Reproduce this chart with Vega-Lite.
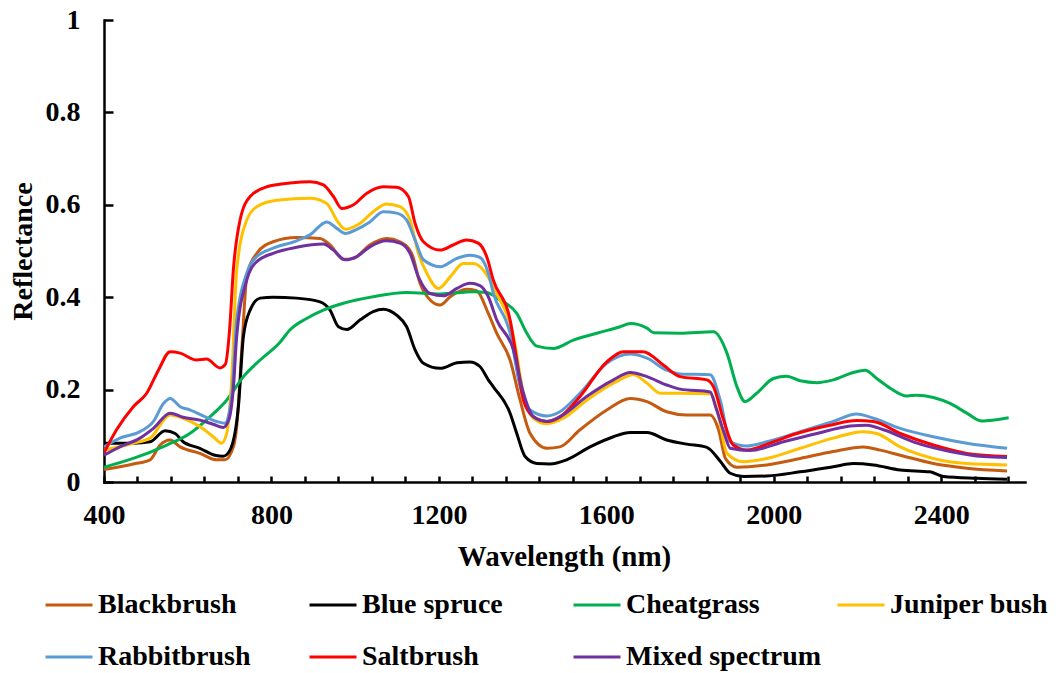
{
  "$schema": "https://vega.github.io/schema/vega-lite/v6.json",
  "autosize": {"type": "none"},
  "padding": {"left": 104, "top": 20, "right": 36, "bottom": 191},
  "width": 921,
  "height": 462,
  "background": "white",
  "config": {"view": {"stroke": null}, "font": "Liberation Serif"},
  "datasets": {
    "spectra": [
      {"s":"Blackbrush","w":400,"r":0.027},{"s":"Blackbrush","w":470,"r":0.039},{"s":"Blackbrush","w":510,"r":0.048},{"s":"Blackbrush","w":534,"r":0.080},{"s":"Blackbrush","w":558,"r":0.091},{"s":"Blackbrush","w":582,"r":0.076},{"s":"Blackbrush","w":629,"r":0.062},{"s":"Blackbrush","w":669,"r":0.048},{"s":"Blackbrush","w":689,"r":0.048},{"s":"Blackbrush","w":709,"r":0.076},{"s":"Blackbrush","w":717,"r":0.12},{"s":"Blackbrush","w":730,"r":0.30},{"s":"Blackbrush","w":741,"r":0.444},{"s":"Blackbrush","w":765,"r":0.495},{"s":"Blackbrush","w":804,"r":0.520},{"s":"Blackbrush","w":860,"r":0.529},{"s":"Blackbrush","w":916,"r":0.527},{"s":"Blackbrush","w":940,"r":0.513},{"s":"Blackbrush","w":972,"r":0.482},{"s":"Blackbrush","w":996,"r":0.484},{"s":"Blackbrush","w":1035,"r":0.513},{"s":"Blackbrush","w":1075,"r":0.527},{"s":"Blackbrush","w":1107,"r":0.520},{"s":"Blackbrush","w":1135,"r":0.495},{"s":"Blackbrush","w":1155,"r":0.430},{"s":"Blackbrush","w":1179,"r":0.394},{"s":"Blackbrush","w":1203,"r":0.383},{"s":"Blackbrush","w":1227,"r":0.401},{"s":"Blackbrush","w":1266,"r":0.417},{"s":"Blackbrush","w":1290,"r":0.414},{"s":"Blackbrush","w":1318,"r":0.365},{"s":"Blackbrush","w":1338,"r":0.322},{"s":"Blackbrush","w":1370,"r":0.264},{"s":"Blackbrush","w":1394,"r":0.177},{"s":"Blackbrush","w":1418,"r":0.105},{"s":"Blackbrush","w":1458,"r":0.073},{"s":"Blackbrush","w":1489,"r":0.076},{"s":"Blackbrush","w":1537,"r":0.113},{"s":"Blackbrush","w":1601,"r":0.156},{"s":"Blackbrush","w":1657,"r":0.181},{"s":"Blackbrush","w":1697,"r":0.174},{"s":"Blackbrush","w":1744,"r":0.152},{"s":"Blackbrush","w":1792,"r":0.145},{"s":"Blackbrush","w":1848,"r":0.145},{"s":"Blackbrush","w":1868,"r":0.113},{"s":"Blackbrush","w":1885,"r":0.050},{"s":"Blackbrush","w":1912,"r":0.032},{"s":"Blackbrush","w":1983,"r":0.037},{"s":"Blackbrush","w":2063,"r":0.051},{"s":"Blackbrush","w":2142,"r":0.066},{"s":"Blackbrush","w":2214,"r":0.076},{"s":"Blackbrush","w":2254,"r":0.069},{"s":"Blackbrush","w":2302,"r":0.058},{"s":"Blackbrush","w":2381,"r":0.040},{"s":"Blackbrush","w":2461,"r":0.030},{"s":"Blackbrush","w":2557,"r":0.024},

      {"s":"Blue spruce","w":400,"r":0.084},{"s":"Blue spruce","w":470,"r":0.084},{"s":"Blue spruce","w":510,"r":0.087},{"s":"Blue spruce","w":546,"r":0.111},{"s":"Blue spruce","w":570,"r":0.105},{"s":"Blue spruce","w":589,"r":0.087},{"s":"Blue spruce","w":629,"r":0.073},{"s":"Blue spruce","w":665,"r":0.058},{"s":"Blue spruce","w":685,"r":0.056},{"s":"Blue spruce","w":701,"r":0.069},{"s":"Blue spruce","w":721,"r":0.163},{"s":"Blue spruce","w":733,"r":0.315},{"s":"Blue spruce","w":749,"r":0.372},{"s":"Blue spruce","w":773,"r":0.398},{"s":"Blue spruce","w":804,"r":0.400},{"s":"Blue spruce","w":860,"r":0.398},{"s":"Blue spruce","w":916,"r":0.390},{"s":"Blue spruce","w":940,"r":0.372},{"s":"Blue spruce","w":960,"r":0.336},{"s":"Blue spruce","w":980,"r":0.330},{"s":"Blue spruce","w":1012,"r":0.351},{"s":"Blue spruce","w":1043,"r":0.369},{"s":"Blue spruce","w":1067,"r":0.374},{"s":"Blue spruce","w":1099,"r":0.361},{"s":"Blue spruce","w":1123,"r":0.336},{"s":"Blue spruce","w":1143,"r":0.286},{"s":"Blue spruce","w":1163,"r":0.257},{"s":"Blue spruce","w":1203,"r":0.246},{"s":"Blue spruce","w":1243,"r":0.258},{"s":"Blue spruce","w":1274,"r":0.260},{"s":"Blue spruce","w":1298,"r":0.250},{"s":"Blue spruce","w":1318,"r":0.221},{"s":"Blue spruce","w":1330,"r":0.206},{"s":"Blue spruce","w":1370,"r":0.149},{"s":"Blue spruce","w":1386,"r":0.105},{"s":"Blue spruce","w":1406,"r":0.055},{"s":"Blue spruce","w":1434,"r":0.040},{"s":"Blue spruce","w":1465,"r":0.039},{"s":"Blue spruce","w":1505,"r":0.048},{"s":"Blue spruce","w":1561,"r":0.076},{"s":"Blue spruce","w":1617,"r":0.098},{"s":"Blue spruce","w":1657,"r":0.107},{"s":"Blue spruce","w":1697,"r":0.107},{"s":"Blue spruce","w":1744,"r":0.091},{"s":"Blue spruce","w":1792,"r":0.082},{"s":"Blue spruce","w":1840,"r":0.075},{"s":"Blue spruce","w":1872,"r":0.045},{"s":"Blue spruce","w":1896,"r":0.019},{"s":"Blue spruce","w":1927,"r":0.012},{"s":"Blue spruce","w":1983,"r":0.013},{"s":"Blue spruce","w":2063,"r":0.022},{"s":"Blue spruce","w":2142,"r":0.033},{"s":"Blue spruce","w":2190,"r":0.040},{"s":"Blue spruce","w":2238,"r":0.037},{"s":"Blue spruce","w":2302,"r":0.026},{"s":"Blue spruce","w":2373,"r":0.022},{"s":"Blue spruce","w":2405,"r":0.012},{"s":"Blue spruce","w":2485,"r":0.008},{"s":"Blue spruce","w":2557,"r":0.006},

      {"s":"Cheatgrass","w":400,"r":0.032},{"s":"Cheatgrass","w":470,"r":0.051},{"s":"Cheatgrass","w":550,"r":0.080},{"s":"Cheatgrass","w":605,"r":0.105},{"s":"Cheatgrass","w":653,"r":0.141},{"s":"Cheatgrass","w":693,"r":0.177},{"s":"Cheatgrass","w":733,"r":0.228},{"s":"Cheatgrass","w":773,"r":0.264},{"s":"Cheatgrass","w":820,"r":0.302},{"s":"Cheatgrass","w":844,"r":0.329},{"s":"Cheatgrass","w":884,"r":0.354},{"s":"Cheatgrass","w":924,"r":0.372},{"s":"Cheatgrass","w":972,"r":0.387},{"s":"Cheatgrass","w":1043,"r":0.401},{"s":"Cheatgrass","w":1123,"r":0.410},{"s":"Cheatgrass","w":1203,"r":0.407},{"s":"Cheatgrass","w":1282,"r":0.412},{"s":"Cheatgrass","w":1314,"r":0.410},{"s":"Cheatgrass","w":1346,"r":0.394},{"s":"Cheatgrass","w":1386,"r":0.365},{"s":"Cheatgrass","w":1410,"r":0.322},{"s":"Cheatgrass","w":1434,"r":0.294},{"s":"Cheatgrass","w":1473,"r":0.289},{"s":"Cheatgrass","w":1521,"r":0.307},{"s":"Cheatgrass","w":1577,"r":0.322},{"s":"Cheatgrass","w":1633,"r":0.336},{"s":"Cheatgrass","w":1657,"r":0.343},{"s":"Cheatgrass","w":1697,"r":0.333},{"s":"Cheatgrass","w":1713,"r":0.323},{"s":"Cheatgrass","w":1776,"r":0.322},{"s":"Cheatgrass","w":1856,"r":0.325},{"s":"Cheatgrass","w":1888,"r":0.279},{"s":"Cheatgrass","w":1912,"r":0.206},{"s":"Cheatgrass","w":1931,"r":0.174},{"s":"Cheatgrass","w":1959,"r":0.192},{"s":"Cheatgrass","w":1999,"r":0.224},{"s":"Cheatgrass","w":2031,"r":0.229},{"s":"Cheatgrass","w":2063,"r":0.219},{"s":"Cheatgrass","w":2103,"r":0.215},{"s":"Cheatgrass","w":2142,"r":0.221},{"s":"Cheatgrass","w":2190,"r":0.237},{"s":"Cheatgrass","w":2218,"r":0.242},{"s":"Cheatgrass","w":2246,"r":0.224},{"s":"Cheatgrass","w":2278,"r":0.203},{"s":"Cheatgrass","w":2318,"r":0.186},{"s":"Cheatgrass","w":2342,"r":0.188},{"s":"Cheatgrass","w":2381,"r":0.183},{"s":"Cheatgrass","w":2421,"r":0.170},{"s":"Cheatgrass","w":2461,"r":0.149},{"s":"Cheatgrass","w":2497,"r":0.132},{"s":"Cheatgrass","w":2525,"r":0.134},{"s":"Cheatgrass","w":2561,"r":0.139},

      {"s":"Juniper bush","w":400,"r":0.069},{"s":"Juniper bush","w":470,"r":0.084},{"s":"Juniper bush","w":510,"r":0.095},{"s":"Juniper bush","w":558,"r":0.145},{"s":"Juniper bush","w":589,"r":0.138},{"s":"Juniper bush","w":629,"r":0.120},{"s":"Juniper bush","w":661,"r":0.098},{"s":"Juniper bush","w":681,"r":0.084},{"s":"Juniper bush","w":693,"r":0.105},{"s":"Juniper bush","w":705,"r":0.221},{"s":"Juniper bush","w":717,"r":0.459},{"s":"Juniper bush","w":741,"r":0.567},{"s":"Juniper bush","w":765,"r":0.596},{"s":"Juniper bush","w":813,"r":0.610},{"s":"Juniper bush","w":892,"r":0.614},{"s":"Juniper bush","w":932,"r":0.603},{"s":"Juniper bush","w":956,"r":0.567},{"s":"Juniper bush","w":976,"r":0.547},{"s":"Juniper bush","w":1012,"r":0.560},{"s":"Juniper bush","w":1043,"r":0.585},{"s":"Juniper bush","w":1075,"r":0.602},{"s":"Juniper bush","w":1107,"r":0.596},{"s":"Juniper bush","w":1131,"r":0.567},{"s":"Juniper bush","w":1151,"r":0.495},{"s":"Juniper bush","w":1171,"r":0.452},{"s":"Juniper bush","w":1199,"r":0.419},{"s":"Juniper bush","w":1227,"r":0.444},{"s":"Juniper bush","w":1258,"r":0.473},{"s":"Juniper bush","w":1282,"r":0.473},{"s":"Juniper bush","w":1306,"r":0.459},{"s":"Juniper bush","w":1338,"r":0.408},{"s":"Juniper bush","w":1378,"r":0.315},{"s":"Juniper bush","w":1402,"r":0.192},{"s":"Juniper bush","w":1426,"r":0.138},{"s":"Juniper bush","w":1458,"r":0.126},{"s":"Juniper bush","w":1497,"r":0.138},{"s":"Juniper bush","w":1553,"r":0.177},{"s":"Juniper bush","w":1617,"r":0.214},{"s":"Juniper bush","w":1665,"r":0.232},{"s":"Juniper bush","w":1697,"r":0.214},{"s":"Juniper bush","w":1729,"r":0.192},{"s":"Juniper bush","w":1776,"r":0.192},{"s":"Juniper bush","w":1848,"r":0.191},{"s":"Juniper bush","w":1866,"r":0.150},{"s":"Juniper bush","w":1888,"r":0.062},{"s":"Juniper bush","w":1927,"r":0.044},{"s":"Juniper bush","w":1983,"r":0.051},{"s":"Juniper bush","w":2063,"r":0.073},{"s":"Juniper bush","w":2142,"r":0.095},{"s":"Juniper bush","w":2214,"r":0.109},{"s":"Juniper bush","w":2246,"r":0.105},{"s":"Juniper bush","w":2302,"r":0.076},{"s":"Juniper bush","w":2381,"r":0.051},{"s":"Juniper bush","w":2461,"r":0.040},{"s":"Juniper bush","w":2557,"r":0.037},

      {"s":"Rabbitbrush","w":400,"r":0.076},{"s":"Rabbitbrush","w":438,"r":0.095},{"s":"Rabbitbrush","w":486,"r":0.109},{"s":"Rabbitbrush","w":518,"r":0.131},{"s":"Rabbitbrush","w":542,"r":0.170},{"s":"Rabbitbrush","w":558,"r":0.181},{"s":"Rabbitbrush","w":582,"r":0.163},{"s":"Rabbitbrush","w":605,"r":0.156},{"s":"Rabbitbrush","w":637,"r":0.143},{"s":"Rabbitbrush","w":669,"r":0.131},{"s":"Rabbitbrush","w":689,"r":0.127},{"s":"Rabbitbrush","w":705,"r":0.185},{"s":"Rabbitbrush","w":717,"r":0.351},{"s":"Rabbitbrush","w":741,"r":0.452},{"s":"Rabbitbrush","w":765,"r":0.488},{"s":"Rabbitbrush","w":804,"r":0.506},{"s":"Rabbitbrush","w":860,"r":0.522},{"s":"Rabbitbrush","w":892,"r":0.535},{"s":"Rabbitbrush","w":932,"r":0.563},{"s":"Rabbitbrush","w":956,"r":0.549},{"s":"Rabbitbrush","w":976,"r":0.538},{"s":"Rabbitbrush","w":1004,"r":0.547},{"s":"Rabbitbrush","w":1035,"r":0.563},{"s":"Rabbitbrush","w":1067,"r":0.585},{"s":"Rabbitbrush","w":1099,"r":0.582},{"s":"Rabbitbrush","w":1123,"r":0.567},{"s":"Rabbitbrush","w":1143,"r":0.524},{"s":"Rabbitbrush","w":1163,"r":0.481},{"s":"Rabbitbrush","w":1203,"r":0.466},{"s":"Rabbitbrush","w":1243,"r":0.484},{"s":"Rabbitbrush","w":1274,"r":0.491},{"s":"Rabbitbrush","w":1298,"r":0.486},{"s":"Rabbitbrush","w":1318,"r":0.452},{"s":"Rabbitbrush","w":1330,"r":0.409},{"s":"Rabbitbrush","w":1370,"r":0.322},{"s":"Rabbitbrush","w":1394,"r":0.206},{"s":"Rabbitbrush","w":1418,"r":0.156},{"s":"Rabbitbrush","w":1458,"r":0.143},{"s":"Rabbitbrush","w":1489,"r":0.152},{"s":"Rabbitbrush","w":1537,"r":0.192},{"s":"Rabbitbrush","w":1601,"r":0.257},{"s":"Rabbitbrush","w":1657,"r":0.277},{"s":"Rabbitbrush","w":1697,"r":0.268},{"s":"Rabbitbrush","w":1744,"r":0.242},{"s":"Rabbitbrush","w":1776,"r":0.234},{"s":"Rabbitbrush","w":1848,"r":0.232},{"s":"Rabbitbrush","w":1872,"r":0.177},{"s":"Rabbitbrush","w":1896,"r":0.087},{"s":"Rabbitbrush","w":1935,"r":0.078},{"s":"Rabbitbrush","w":1983,"r":0.087},{"s":"Rabbitbrush","w":2063,"r":0.109},{"s":"Rabbitbrush","w":2142,"r":0.131},{"s":"Rabbitbrush","w":2198,"r":0.147},{"s":"Rabbitbrush","w":2238,"r":0.138},{"s":"Rabbitbrush","w":2302,"r":0.116},{"s":"Rabbitbrush","w":2381,"r":0.098},{"s":"Rabbitbrush","w":2461,"r":0.084},{"s":"Rabbitbrush","w":2557,"r":0.073},

      {"s":"Saltbrush","w":400,"r":0.063},{"s":"Saltbrush","w":430,"r":0.113},{"s":"Saltbrush","w":470,"r":0.163},{"s":"Saltbrush","w":502,"r":0.192},{"s":"Saltbrush","w":530,"r":0.242},{"s":"Saltbrush","w":558,"r":0.282},{"s":"Saltbrush","w":582,"r":0.279},{"s":"Saltbrush","w":621,"r":0.264},{"s":"Saltbrush","w":645,"r":0.266},{"s":"Saltbrush","w":677,"r":0.247},{"s":"Saltbrush","w":690,"r":0.255},{"s":"Saltbrush","w":700,"r":0.330},{"s":"Saltbrush","w":709,"r":0.459},{"s":"Saltbrush","w":725,"r":0.567},{"s":"Saltbrush","w":749,"r":0.618},{"s":"Saltbrush","w":789,"r":0.639},{"s":"Saltbrush","w":844,"r":0.647},{"s":"Saltbrush","w":892,"r":0.650},{"s":"Saltbrush","w":924,"r":0.643},{"s":"Saltbrush","w":948,"r":0.618},{"s":"Saltbrush","w":968,"r":0.592},{"s":"Saltbrush","w":996,"r":0.600},{"s":"Saltbrush","w":1028,"r":0.625},{"s":"Saltbrush","w":1067,"r":0.639},{"s":"Saltbrush","w":1099,"r":0.638},{"s":"Saltbrush","w":1127,"r":0.618},{"s":"Saltbrush","w":1143,"r":0.560},{"s":"Saltbrush","w":1163,"r":0.520},{"s":"Saltbrush","w":1203,"r":0.502},{"s":"Saltbrush","w":1234,"r":0.513},{"s":"Saltbrush","w":1266,"r":0.524},{"s":"Saltbrush","w":1294,"r":0.517},{"s":"Saltbrush","w":1314,"r":0.488},{"s":"Saltbrush","w":1330,"r":0.437},{"s":"Saltbrush","w":1370,"r":0.351},{"s":"Saltbrush","w":1386,"r":0.264},{"s":"Saltbrush","w":1402,"r":0.177},{"s":"Saltbrush","w":1426,"r":0.141},{"s":"Saltbrush","w":1458,"r":0.131},{"s":"Saltbrush","w":1489,"r":0.141},{"s":"Saltbrush","w":1537,"r":0.185},{"s":"Saltbrush","w":1601,"r":0.260},{"s":"Saltbrush","w":1641,"r":0.282},{"s":"Saltbrush","w":1688,"r":0.282},{"s":"Saltbrush","w":1736,"r":0.253},{"s":"Saltbrush","w":1776,"r":0.228},{"s":"Saltbrush","w":1840,"r":0.221},{"s":"Saltbrush","w":1856,"r":0.206},{"s":"Saltbrush","w":1880,"r":0.134},{"s":"Saltbrush","w":1903,"r":0.080},{"s":"Saltbrush","w":1935,"r":0.069},{"s":"Saltbrush","w":1999,"r":0.087},{"s":"Saltbrush","w":2055,"r":0.105},{"s":"Saltbrush","w":2134,"r":0.123},{"s":"Saltbrush","w":2198,"r":0.133},{"s":"Saltbrush","w":2238,"r":0.131},{"s":"Saltbrush","w":2302,"r":0.105},{"s":"Saltbrush","w":2381,"r":0.080},{"s":"Saltbrush","w":2461,"r":0.062},{"s":"Saltbrush","w":2557,"r":0.055},

      {"s":"Mixed spectrum","w":400,"r":0.058},{"s":"Mixed spectrum","w":438,"r":0.076},{"s":"Mixed spectrum","w":486,"r":0.095},{"s":"Mixed spectrum","w":518,"r":0.116},{"s":"Mixed spectrum","w":558,"r":0.149},{"s":"Mixed spectrum","w":589,"r":0.140},{"s":"Mixed spectrum","w":629,"r":0.134},{"s":"Mixed spectrum","w":661,"r":0.125},{"s":"Mixed spectrum","w":685,"r":0.118},{"s":"Mixed spectrum","w":698,"r":0.134},{"s":"Mixed spectrum","w":709,"r":0.203},{"s":"Mixed spectrum","w":717,"r":0.315},{"s":"Mixed spectrum","w":741,"r":0.437},{"s":"Mixed spectrum","w":765,"r":0.477},{"s":"Mixed spectrum","w":804,"r":0.495},{"s":"Mixed spectrum","w":860,"r":0.508},{"s":"Mixed spectrum","w":924,"r":0.515},{"s":"Mixed spectrum","w":948,"r":0.502},{"s":"Mixed spectrum","w":976,"r":0.481},{"s":"Mixed spectrum","w":1004,"r":0.488},{"s":"Mixed spectrum","w":1035,"r":0.509},{"s":"Mixed spectrum","w":1075,"r":0.522},{"s":"Mixed spectrum","w":1107,"r":0.517},{"s":"Mixed spectrum","w":1131,"r":0.495},{"s":"Mixed spectrum","w":1151,"r":0.444},{"s":"Mixed spectrum","w":1179,"r":0.408},{"s":"Mixed spectrum","w":1211,"r":0.403},{"s":"Mixed spectrum","w":1243,"r":0.419},{"s":"Mixed spectrum","w":1274,"r":0.430},{"s":"Mixed spectrum","w":1298,"r":0.425},{"s":"Mixed spectrum","w":1318,"r":0.401},{"s":"Mixed spectrum","w":1338,"r":0.351},{"s":"Mixed spectrum","w":1378,"r":0.286},{"s":"Mixed spectrum","w":1402,"r":0.192},{"s":"Mixed spectrum","w":1426,"r":0.141},{"s":"Mixed spectrum","w":1458,"r":0.131},{"s":"Mixed spectrum","w":1489,"r":0.141},{"s":"Mixed spectrum","w":1553,"r":0.185},{"s":"Mixed spectrum","w":1617,"r":0.221},{"s":"Mixed spectrum","w":1657,"r":0.237},{"s":"Mixed spectrum","w":1697,"r":0.228},{"s":"Mixed spectrum","w":1744,"r":0.210},{"s":"Mixed spectrum","w":1776,"r":0.201},{"s":"Mixed spectrum","w":1848,"r":0.195},{"s":"Mixed spectrum","w":1862,"r":0.160},{"s":"Mixed spectrum","w":1880,"r":0.110},{"s":"Mixed spectrum","w":1896,"r":0.073},{"s":"Mixed spectrum","w":1943,"r":0.068},{"s":"Mixed spectrum","w":2023,"r":0.087},{"s":"Mixed spectrum","w":2103,"r":0.105},{"s":"Mixed spectrum","w":2182,"r":0.121},{"s":"Mixed spectrum","w":2222,"r":0.123},{"s":"Mixed spectrum","w":2262,"r":0.113},{"s":"Mixed spectrum","w":2342,"r":0.084},{"s":"Mixed spectrum","w":2421,"r":0.066},{"s":"Mixed spectrum","w":2501,"r":0.055},{"s":"Mixed spectrum","w":2557,"r":0.053}
    ]
  },
  "data": {"name": "spectra"},
  "mark": {"type": "line", "strokeWidth": 3, "interpolate": "monotone", "clip": true},
  "encoding": {
    "x": {
      "field": "w", "type": "quantitative",
      "scale": {"domain": [400, 2600], "nice": false, "zero": false},
      "axis": {
        "title": "Wavelength (nm)",
        "values": [400,480,560,640,720,800,880,960,1040,1120,1200,1280,1360,1440,1520,1600,1680,1760,1840,1920,2000,2080,2160,2240,2320,2400,2480,2560],
        "labelExpr": "datum.value % 400 === 0 ? datum.value : ''",
        "grid": false,
        "domainColor": "black", "domainWidth": 2.5, "domainCap": "square",
        "tickColor": "black", "tickWidth": 2.5, "tickSize": -6,
        "labelFont": "Liberation Serif", "labelFontSize": 28, "labelFontWeight": "bold", "labelColor": "black",
        "labelPadding": 25, "labelFlush": false, "labelOverlap": false,
        "titleFont": "Liberation Serif", "titleFontSize": 29, "titleFontWeight": "bold", "titleColor": "black",
        "titleX": 460, "titleY": 83, "titleAlign": "center", "titleBaseline": "alphabetic", "titleAnchor": null
      }
    },
    "y": {
      "field": "r", "type": "quantitative",
      "scale": {"domain": [0, 1], "nice": false},
      "axis": {
        "title": "Reflectance",
        "values": [0, 0.2, 0.4, 0.6, 0.8, 1],
        "format": "~g",
        "grid": false,
        "domainColor": "black", "domainWidth": 2.5, "domainCap": "square",
        "tickColor": "black", "tickWidth": 2.5, "tickSize": -9,
        "labelFont": "Liberation Serif", "labelFontSize": 28, "labelFontWeight": "bold", "labelColor": "black",
        "labelPadding": 33, "labelFlush": false, "labelOverlap": false,
        "titleFont": "Liberation Serif", "titleFontSize": 28, "titleFontWeight": "bold", "titleColor": "black",
        "titleX": -73, "titleY": 231, "titleAlign": "center", "titleBaseline": "alphabetic", "titleAngle": -90, "titleAnchor": null
      }
    },
    "color": {
      "field": "s", "type": "nominal",
      "scale": {
        "domain": ["Blackbrush","Blue spruce","Cheatgrass","Juniper bush","Rabbitbrush","Saltbrush","Mixed spectrum"],
        "range": ["#C55A11","#000000","#00B050","#FFC000","#5B9BD5","#FF0000","#7030A0"]
      },
      "legend": {
        "title": null,
        "orient": "none", "legendX": -60, "legendY": 560,
        "direction": "horizontal", "columns": 4, "gridAlign": "all",
        "columnPadding": 9, "rowPadding": 13,
        "symbolType": "stroke", "symbolSize": 2209, "symbolStrokeWidth": 3,
        "labelFont": "Liberation Serif", "labelFontSize": 28, "labelFontWeight": "bold", "labelColor": "black",
        "labelLimit": 400, "labelOffset": 4, "padding": 0
      }
    }
  }
}
